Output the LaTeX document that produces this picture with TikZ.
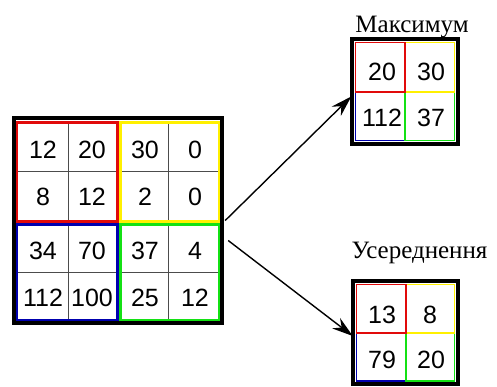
\documentclass[tikz,border=0pt]{standalone}
\usepackage{fontspec}
\setmainfont{Liberation Serif}
\newfontfamily\numfont{Liberation Sans}
\usetikzlibrary{arrows.meta}
\definecolor{qred}{RGB}{225,10,10}
\definecolor{qyellow}{RGB}{255,240,0}
\definecolor{qblue}{RGB}{0,0,175}
\definecolor{qgreen}{RGB}{20,225,20}
\tikzset{
  num/.style={font=\numfont\fontsize{25}{25}\selectfont, inner sep=0pt},
  title/.style={font=\fontsize{25}{25}\selectfont, inner sep=0pt, anchor=base},
  arr/.style={line width=1.4pt, -{Stealth[length=21pt,width=13pt,inset=7pt]}},
  cell/.style={line width=1.5pt},
}

\begin{document}
\begin{tikzpicture}[x=1pt,y=-1pt]
\useasboundingbox (0,0) rectangle (497,386);

% input map 4x4
\node[minimum width=208pt, minimum height=205pt, inner sep=0pt] (inp) at (118,220.5) {};
\draw[gray!60!black, line width=.9pt] (68,122)--(68,321) (168,122)--(168,321)
  (16,171)--(220,171) (16,272)--(220,272);
\draw[qred, line width=3pt] (16.5,122) rectangle (117,221);
\draw[qyellow, line width=3pt] (120,122) rectangle (219.5,221);
\draw[qblue, line width=3pt] (16.5,224) rectangle (117,320.5);
\draw[qgreen, line width=3pt] (120,224) rectangle (219.5,320.5);
\draw[line width=3.5pt] (14,118) rectangle (222,323);
\foreach \v [count=\i from 0] in {12,20,30,0, 8,12,2,0, 34,70,37,4, 112,100,25,12}{
  \pgfmathsetmacro\cx{{43,92,145,195}[mod(\i,4)]}
  \pgfmathsetmacro\cy{{150,197,251,298}[div(\i,4)]}
  \node[num] (in\i) at (\cx,\cy) {\v};
}

% max pooling
\node[minimum size=105pt, inner sep=0pt] (maxbox) at (405,91.5) {};
\draw[qblue, cell] (355.5,92) rectangle (405,140.5);
\draw[qgreen, cell] (405,92) rectangle (454.5,140.5);
\draw[qyellow, cell] (405,42.5) rectangle (454.5,92);
\draw[qred, cell] (355.5,42.5) rectangle (405,92);
\draw[line width=4pt] (352,39) rectangle (458,144);
\node[num] (mx1) at (382,72) {20};
\node[num] (mx2) at (431,72) {30};
\node[num] (mx3) at (382,118) {112};
\node[num] (mx4) at (431,118) {37};
\node[title] (maxlbl) at (412,32) {Максимум};

% average pooling
\node[minimum size=105pt, inner sep=0pt] (avgbox) at (405.5,332) {};
\draw[qblue, cell] (356.5,333) rectangle (406,381);
\draw[qgreen, cell] (406,333) rectangle (454.5,381);
\draw[qyellow, cell] (406,284.5) rectangle (454.5,333);
\draw[qred, cell] (356.5,284.5) rectangle (406,333);
\draw[line width=4pt] (353,281) rectangle (458,384);
\node[num] (av1) at (382,315) {13};
\node[num] (av2) at (430,315) {8};
\node[num] (av3) at (382,360) {79};
\node[num] (av4) at (431,360) {20};
\node[title] (avglbl) at (419.5,258) {Усереднення};

% arrows
\coordinate (s1) at ([xshift=3pt]inp.east);
\coordinate (s2) at ([shift={(6pt,-20pt)}]inp.east);
\draw[arr] (s1) -- ([shift={(-1pt,-5pt)}]maxbox.west);
\draw[arr] (s2) -- ([yshift=-4pt]avgbox.west);
\end{tikzpicture}
\end{document}
